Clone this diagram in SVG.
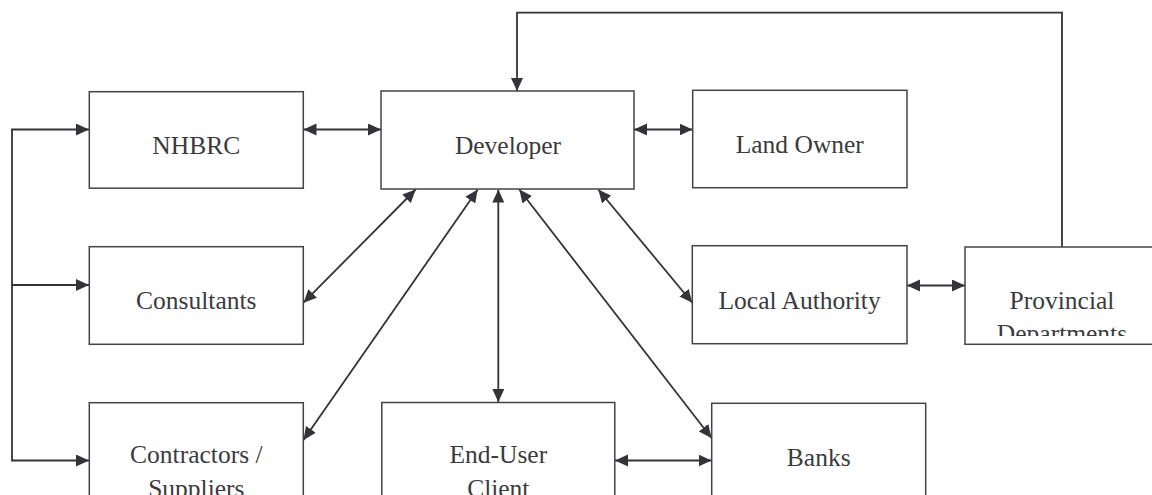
<svg xmlns="http://www.w3.org/2000/svg" width="1152" height="495" viewBox="0 0 1152 495">
  <style>
    .box { fill: #ffffff; stroke: #444448; stroke-width: 1.5; }
    .lbl { font-family: "Liberation Serif", Tinos, "DejaVu Serif", "Noto Serif", "Times New Roman", serif; font-size: 25.5px; fill: #3a3a3e; text-anchor: middle; }
    .link { fill: none; stroke: #333338; stroke-width: 1.8; }
    .one { marker-end: url(#head); }
    .two { marker-start: url(#head); marker-end: url(#head); }
  </style>
  <defs>
    <marker id="head" markerUnits="userSpaceOnUse" markerWidth="14" markerHeight="13" refX="13" refY="6" orient="auto-start-reverse">
      <path d="M0,0 L13,6 L0,12 z" fill="#333338"/>
    </marker>
    <clipPath id="provClip">
      <rect x="960" y="240" width="200" height="96"/>
    </clipPath>
  </defs>

  <rect width="1152" height="495" fill="#ffffff"/>

  <!-- connectors -->
  <g id="connectors">
    <!-- feedback line from Provincial Departments back to Developer -->
    <path class="link one" d="M1062,247 V12.7 H517 V91"/>
    <!-- left bracket feeding the three left-column boxes -->
    <path class="link" d="M12,129.5 V460.5"/>
    <line class="link one" x1="11.1" y1="129.5" x2="89" y2="129.5"/>
    <line class="link one" x1="12" y1="285" x2="89" y2="285"/>
    <line class="link one" x1="11.1" y1="460.5" x2="89" y2="460.5"/>
    <!-- horizontal two-way links -->
    <line class="link two" x1="303.5" y1="129.5" x2="381" y2="129.5"/>
    <line class="link two" x1="634" y1="129.5" x2="692.5" y2="129.5"/>
    <line class="link two" x1="907" y1="285.5" x2="965" y2="285.5"/>
    <line class="link two" x1="615" y1="460.5" x2="711.5" y2="460.5"/>
    <!-- links fanning out from Developer -->
    <line class="link two" x1="415.7" y1="189.5" x2="303.5" y2="302.7"/>
    <line class="link two" x1="477.7" y1="189.5" x2="303.5" y2="440"/>
    <line class="link two" x1="498.3" y1="189.5" x2="498.3" y2="402"/>
    <line class="link two" x1="519.3" y1="189.5" x2="711.5" y2="438"/>
    <line class="link two" x1="598.3" y1="189.5" x2="692.3" y2="302.7"/>
  </g>

  <!-- nodes -->
  <g id="nhbrc">
    <rect class="box" x="89.3" y="91.7" width="214" height="96.5"/>
    <text class="lbl" x="196.3" y="154">NHBRC</text>
  </g>
  <g id="developer">
    <rect class="box" x="381" y="91" width="253" height="98"/>
    <text class="lbl" x="508" y="154">Developer</text>
  </g>
  <g id="land-owner">
    <rect class="box" x="692.7" y="90.3" width="214.3" height="97.4"/>
    <text class="lbl" x="799.8" y="152.7">Land Owner</text>
  </g>
  <g id="consultants">
    <rect class="box" x="89.3" y="246.7" width="214" height="97.6"/>
    <text class="lbl" x="196.3" y="309">Consultants</text>
  </g>
  <g id="local-authority">
    <rect class="box" x="692.3" y="245.7" width="214.7" height="98"/>
    <text class="lbl" x="799.6" y="309.3">Local Authority</text>
  </g>
  <g id="provincial-departments">
    <rect class="box" x="965" y="247" width="200" height="97.3"/>
    <g clip-path="url(#provClip)">
      <text class="lbl" x="1062" y="309">Provincial</text>
      <text class="lbl" x="1062" y="342">Departments</text>
    </g>
  </g>
  <g id="contractors-suppliers">
    <rect class="box" x="89.3" y="402.7" width="214" height="110"/>
    <text class="lbl" x="196.3" y="463.3">Contractors /</text>
    <text class="lbl" x="196.3" y="496.5">Suppliers</text>
  </g>
  <g id="end-user-client">
    <rect class="box" x="381.8" y="402.5" width="233" height="110"/>
    <text class="lbl" x="498.3" y="463.3">End-User</text>
    <text class="lbl" x="498.3" y="496.5">Client</text>
  </g>
  <g id="banks">
    <rect class="box" x="711.7" y="403.3" width="214" height="110"/>
    <text class="lbl" x="818.7" y="465.7">Banks</text>
  </g>
</svg>
